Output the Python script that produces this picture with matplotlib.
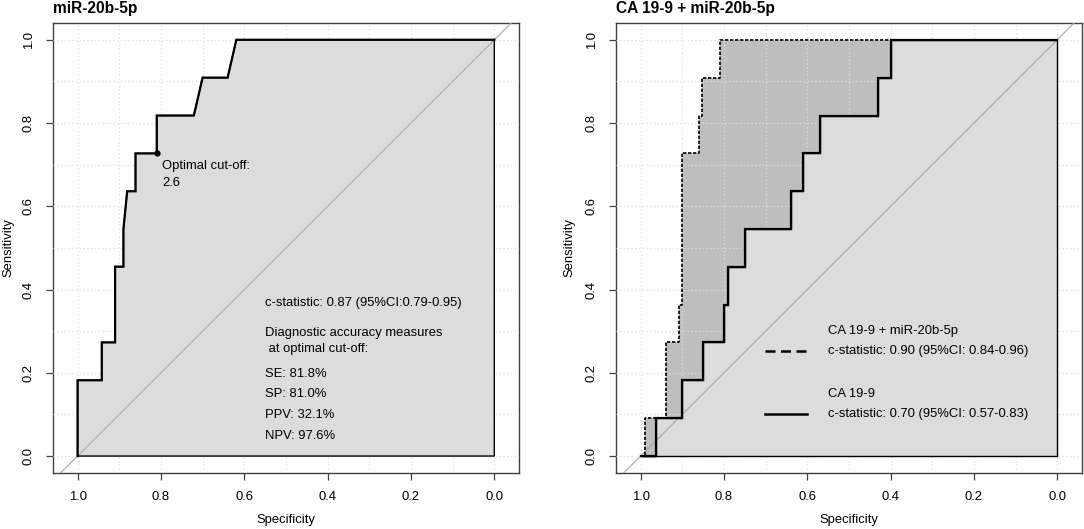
import matplotlib
matplotlib.use("Agg")
import matplotlib.pyplot as plt

plt.rcParams['font.family'] = ['Liberation Sans', 'DejaVu Sans']

# ---------------- data ----------------
mir_spec = [1.0, 1.0, 0.942, 0.942, 0.910, 0.910, 0.890, 0.890, 0.881, 0.861, 0.861,
            0.810, 0.810, 0.721, 0.700, 0.640, 0.619, 0.0]
mir_sens = [0.0, 0.182, 0.182, 0.273, 0.273, 0.455, 0.455, 0.545, 0.636, 0.636, 0.727,
            0.727, 0.818, 0.818, 0.909, 0.909, 1.0, 1.0]
opt_spec, opt_sens = 0.810, 0.727

comb_spec = [1.0, 0.990, 0.990, 0.938, 0.938, 0.908, 0.908, 0.900, 0.900, 0.860, 0.860,
             0.853, 0.853, 0.810, 0.810, 0.0]
comb_sens = [0.0, 0.0, 0.091, 0.091, 0.273, 0.273, 0.364, 0.364, 0.727, 0.727, 0.818,
             0.818, 0.909, 0.909, 1.0, 1.0]

ca_spec = [1.0, 0.962, 0.962, 0.900, 0.900, 0.850, 0.850, 0.800, 0.800, 0.790, 0.790,
           0.750, 0.750, 0.640, 0.640, 0.610, 0.610, 0.570, 0.570, 0.430, 0.430, 0.400,
           0.400, 0.0]
ca_sens = [0.0, 0.0, 0.091, 0.091, 0.182, 0.182, 0.273, 0.273, 0.364, 0.364, 0.455,
           0.455, 0.545, 0.545, 0.636, 0.636, 0.727, 0.727, 0.818, 0.818, 0.909, 0.909,
           1.0, 1.0]

ticks = [1.0, 0.8, 0.6, 0.4, 0.2, 0.0]
tick_labels = ["1.0", "0.8", "0.6", "0.4", "0.2", "0.0"]
grid_vals = [i / 10 for i in range(11)]

left_title = "miR-20b-5p"
right_title = "CA 19-9 + miR-20b-5p"
left_texts = ["c-statistic: 0.87 (95%CI:0.79-0.95)",
              "Diagnostic accuracy measures",
              " at optimal cut-off:",
              "SE: 81.8%", "SP: 81.0%", "PPV: 32.1%", "NPV: 97.6%"]
left_text_y = [0.368, 0.296, 0.258, 0.198, 0.148, 0.098, 0.048]
legend_texts = ["CA 19-9 + miR-20b-5p", "c-statistic: 0.90 (95%CI: 0.84-0.96)",
                "CA 19-9", "c-statistic: 0.70 (95%CI: 0.57-0.83)"]
legend_text_y = [0.300, 0.252, 0.148, 0.100]

# ---------------- figure ----------------
W, H = 1084, 529
fig = plt.figure(figsize=(W / 100, H / 100), dpi=100)

FS = 9.4
LIGHT = '#DCDCDC'
DARK = '#BEBEBE'
GRIDC = '#DDDDDD'
BOXC = '#404040'


def setup_axes(ax):
    ax.set_xlim(1.059, -0.060)
    ax.set_ylim(-0.040, 1.041)
    for v in grid_vals:
        ax.axvline(v, color=GRIDC, lw=0.9, ls=(0, (1, 2)), zorder=3)
        ax.axhline(v, color=GRIDC, lw=0.9, ls=(0, (1, 2)), zorder=3)
    ax.axline((1, 0), (0, 1), color='#A8A8A8', lw=0.8, zorder=4)
    ax.set_xticks(ticks)
    ax.set_xticklabels(tick_labels)
    ax.set_yticks(ticks)
    ax.set_yticklabels(tick_labels)
    ax.tick_params(direction='out', length=5, width=0.9, color=BOXC, pad=8,
                   labelsize=FS)
    ax.tick_params(axis='y', labelrotation=90)
    for lab in ax.get_yticklabels():
        lab.set_va('center')
    for s in ax.spines.values():
        s.set_color(BOXC)
        s.set_linewidth(1.0)


def px_to_fig(x, y):
    return x / W, 1 - y / H


def auc_polygon(ax, spec, sens, color, z):
    xs = spec + [0.0]
    ys = sens + [0.0]
    ax.fill(xs, ys, facecolor=color, edgecolor='none', zorder=z)
    ax.fill(xs, ys, fill=False, edgecolor='black', lw=1.0, zorder=4.5)


# ---------- left panel ----------
axL = fig.add_axes([53 / W, 1 - 472.7 / H, 466.3 / W, 450 / H])
setup_axes(axL)
auc_polygon(axL, mir_spec, mir_sens, LIGHT, 2)
axL.plot(mir_spec, mir_sens, color='black', lw=1.6, zorder=5,
         solid_joinstyle='miter')
axL.plot([opt_spec], [opt_sens], 'o', color='black', ms=3.5, zorder=6)
axL.text(0.797, 0.696, "Optimal cut-off:", fontsize=FS, ha='left', va='center', zorder=7)
axL.text(0.797, 0.656, "2.6", fontsize=FS, ha='left', va='center', zorder=7)
for t, yv in zip(left_texts, left_text_y):
    axL.text(0.5505, yv, t, fontsize=FS, ha='left', va='center', zorder=7)

# ---------- right panel ----------
axR = fig.add_axes([616 / W, 1 - 472.7 / H, 466.3 / W, 450 / H])
setup_axes(axR)
axR.fill(comb_spec + [0.0], comb_sens + [0.0], facecolor=DARK, edgecolor='none',
         zorder=1.5)
auc_polygon(axR, ca_spec, ca_sens, LIGHT, 2)
axR.plot(comb_spec, comb_sens, color='black', lw=1.2, ls=(0, (2, 1)), zorder=5)
axR.plot(ca_spec, ca_sens, color='black', lw=1.6, zorder=5.5, solid_joinstyle='miter')
for t, yv in zip(legend_texts, legend_text_y):
    axR.text(0.550, yv, t, fontsize=FS, ha='left', va='center', zorder=7)
axR.plot([0.702, 0.601], [legend_text_y[1], legend_text_y[1]], color='black', lw=1.8,
         ls=(0, (4, 2.2)), zorder=7)
axR.plot([0.702, 0.601], [legend_text_y[3], legend_text_y[3]], color='black', lw=1.8,
         zorder=7)

# ---------- titles & axis labels ----------
fig.text(*px_to_fig(53, 12.7), left_title, fontsize=11.2, fontweight='bold',
         ha='left', va='baseline')
fig.text(*px_to_fig(616.5, 12.7), right_title, fontsize=11.2, fontweight='bold',
         ha='left', va='baseline')
for xc in (8, 569):
    fig.text(*px_to_fig(xc, 247.7), "Sensitivity", fontsize=FS, rotation=90,
             ha='center', va='center')
for xc in (286.2, 849.2):
    fig.text(*px_to_fig(xc, 520), "Specificity", fontsize=FS, ha='center', va='center')

fig.savefig("out.png", dpi=100)
